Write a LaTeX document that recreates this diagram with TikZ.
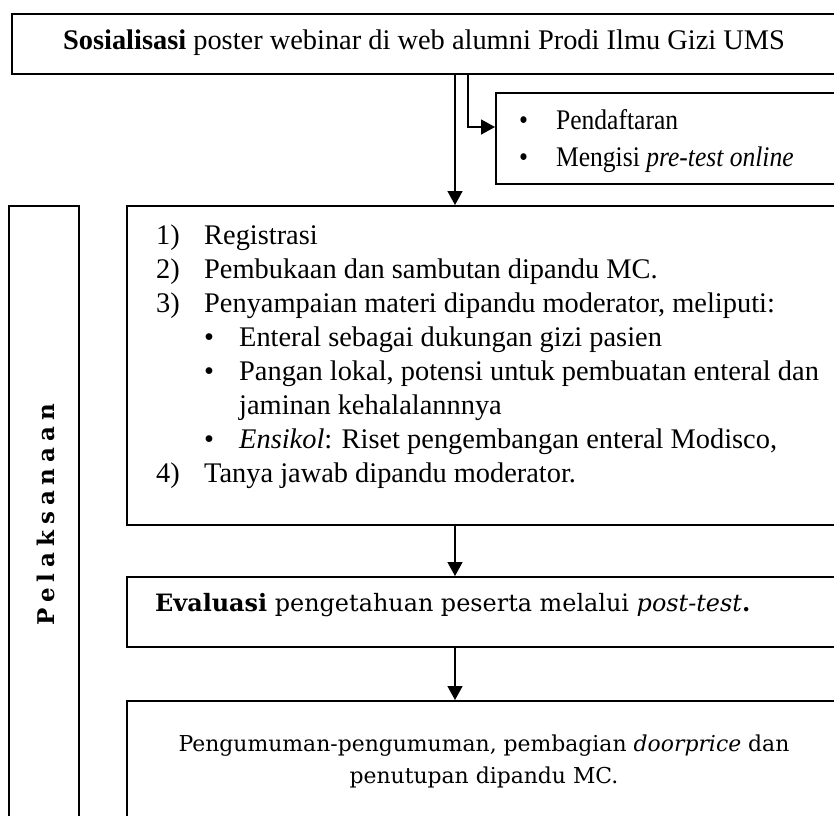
\documentclass[tikz,border=0pt]{standalone}
\usepackage{fontspec}
\setmainfont{Liberation Serif}
\newfontfamily\widefont{DejaVu Serif}
\usetikzlibrary{arrows.meta,positioning}
\tikzset{
	box/.style={draw,line width=2.3pt,anchor=north west,inner sep=0pt},
	arr/.style={line width=1.6pt,-{Triangle[length=14pt,width=15pt]}},
	txt/.style={inner sep=0pt,font=\fontsize{28.4}{34}\selectfont}
}
\begin{document}
\begin{tikzpicture}[x=1pt,y=-1pt]
	\useasboundingbox (0,0) rectangle (834,815);
	\clip (0,0) rectangle (834,815);
	\node[box,minimum width=840,minimum height=60] (sos) at (11,13) {};
	\node[box,minimum width=360,minimum height=91] (daftar) at (495,92) {};
	\node[box,minimum width=70,minimum height=630] (side) at (8,205) {};
	\node[box,minimum width=730,minimum height=319] (main) at (126,205) {};
	\node[box,minimum width=730,minimum height=70] (eval) at (126,576) {};
	\node[box,minimum width=730,minimum height=130] (tutup) at (126,700) {};
	\node[txt] (sostext) at (424,43) {\textbf{Sosialisasi} poster webinar di web alumni Prodi Ilmu Gizi UMS};
	\node[txt,anchor=base west] (daftartext) at (519,129) {\scalebox{0.9}[1]{\begin{tabular}[t]{@{}p{41pt}@{}l@{}}
		\textbullet & Pendaftaran\\[3pt]
		\textbullet & Mengisi \textit{pre-test online}
	\end{tabular}}};
	\node[rotate=90,inner sep=0pt,font=\widefont\bfseries\fontsize{23}{26}\selectfont] (sidetext) at (46,515) {\spaceskip=5.9pt P e l a k s a n a a n};
	\node[txt,anchor=base west] (maintext) at (156,244) {\begin{tabular}[t]{@{}p{48pt}@{}p{35pt}@{}l@{}}
		1) & \multicolumn{2}{@{}l@{}}{Registrasi}\\
		2) & \multicolumn{2}{@{}l@{}}{Pembukaan dan sambutan dipandu MC.}\\
		3) & \multicolumn{2}{@{}l@{}}{Penyampaian materi dipandu moderator, meliputi:}\\
		& \textbullet & Enteral sebagai dukungan gizi pasien\\
		& \textbullet & Pangan lokal, potensi untuk pembuatan enteral dan\\
		& & jaminan kehalalannnya\\
		& \textbullet & \textit{Ensikol}: Riset pengembangan enteral Modisco,\\
		4) & \multicolumn{2}{@{}l@{}}{Tanya jawab dipandu moderator.}
	\end{tabular}};
	\node[inner sep=0pt,anchor=west,font=\widefont\fontsize{23.9}{32}\selectfont] (evaltext) at (155,605) {\textbf{Evaluasi} pengetahuan peserta melalui \textit{post-test}\textbf{.}};
	\node[inner sep=0pt,align=center,font=\widefont\fontsize{21.9}{32}\selectfont] (tutuptext) at (484,761) {Pengumuman-pengumuman, pembagian \textit{doorprice} dan\\penutupan dipandu MC.};
	\coordinate (d1) at (455,0);
	\coordinate (bend) at (468,127);
	\draw[arr] (sos.south -| d1) -- (main.north -| d1);
	\draw[arr] (sos.south -| bend) -- (bend) -- (bend -| daftar.west);
	\draw[arr] (main.south -| d1) -- (eval.north -| d1);
	\draw[arr] (eval.south -| d1) -- (tutup.north -| d1);
\end{tikzpicture}
\end{document}
